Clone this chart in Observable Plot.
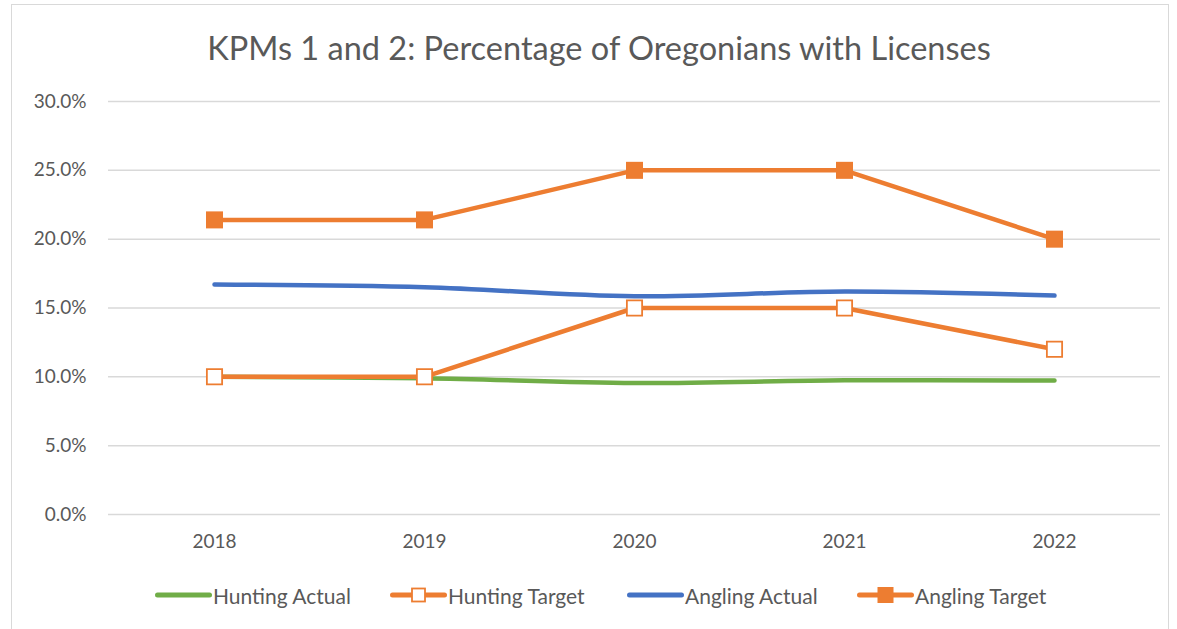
<!DOCTYPE html>
<html>
<head>
<meta charset="utf-8">
<script src="https://cdn.jsdelivr.net/npm/d3@7"></script>
<script src="https://cdn.jsdelivr.net/npm/@observablehq/plot@0.6"></script>
<style>
  html, body { margin: 0; padding: 0; background: #fff; }
  body { width: 1177px; height: 629px; position: relative; overflow: hidden; font-family: Lato, "Open Sans", sans-serif; }
  #frame { position: absolute; left: 11px; top: 4px; width: 1158px; height: 640px; border: 1.5px solid #d9d9d9; box-sizing: border-box; }
  #title { position: absolute; left: 0; width: 1198px; top: 29px; text-align: center; font-size: 32.5px; color: #595959; line-height: 38px; }
  #chart { position: absolute; left: 0; top: 80px; }
  #legend { position: absolute; left: 0; top: 581px; width: 1177px; height: 28px; font-size: 21px; color: #595959; }
  .item { position: absolute; top: 0; display: flex; align-items: center; height: 28px; }
  .item svg { display: block; }
</style>
</head>
<body>
<div id="frame"></div>
<div id="title">KPMs 1 and 2: Percentage of Oregonians with Licenses</div>
<div id="chart"></div>
<div id="legend"></div>
<script>
const years = ["2018", "2019", "2020", "2021", "2022"];
const huntingActual = [0.100, 0.099, 0.0955, 0.0975, 0.0973];
const huntingTarget = [0.100, 0.100, 0.150, 0.150, 0.120];
const anglingActual = [0.167, 0.165, 0.1585, 0.162, 0.159];
const anglingTarget = [0.214, 0.214, 0.250, 0.250, 0.200];
const yTicks = [0, 0.05, 0.10, 0.15, 0.20, 0.25, 0.30];

const seriesNames = ["Hunting Actual", "Hunting Target", "Angling Actual", "Angling Target"];
const seriesColors = ["#70ad47", "#ed7d31", "#4472c4", "#ed7d31"];

const rows = (vals) => years.map((y, i) => ({year: y, value: vals[i]}));
const ha = rows(huntingActual), ht = rows(huntingTarget), aa = rows(anglingActual), at = rows(anglingTarget);

const plot = Plot.plot({
  width: 1177,
  height: 484,
  marginLeft: 108,
  marginRight: 17,
  marginTop: 21,
  marginBottom: 50,
  style: {fontFamily: "Lato, 'Open Sans', sans-serif", fontSize: "19px", color: "#595959", background: "transparent"},
  x: {type: "point", domain: years, padding: 0.5, label: null},
  y: {domain: [0, 0.30], ticks: yTicks, label: null},
  marks: [
    Plot.ruleY(yTicks, {stroke: "#d9d9d9", strokeWidth: 1.5}),
    Plot.axisY({ticks: yTicks, tickSize: 0, tickPadding: 22, tickFormat: d3.format(".1%"), fill: "#595959", fontSize: 19}),
    Plot.axisX({tickSize: 0, tickPadding: 20, fill: "#595959", fontSize: 19}),
    Plot.lineY(ha, {x: "year", y: "value", stroke: seriesColors[0], strokeWidth: 4.5, curve: "catmull-rom", strokeLinecap: "round"}),
    Plot.lineY(ht, {x: "year", y: "value", stroke: seriesColors[1], strokeWidth: 4.5, strokeLinecap: "round"}),
    Plot.dot(ht, {x: "year", y: "value", symbol: "square", r: 8.6, fill: "white", stroke: seriesColors[1], strokeWidth: 1.8}),
    Plot.lineY(aa, {x: "year", y: "value", stroke: seriesColors[2], strokeWidth: 4.5, curve: "catmull-rom", strokeLinecap: "round"}),
    Plot.lineY(at, {x: "year", y: "value", stroke: seriesColors[3], strokeWidth: 4.5, strokeLinecap: "round"}),
    Plot.dot(at, {x: "year", y: "value", symbol: "square", r: 9.6, fill: seriesColors[3], stroke: "none"})
  ]
});
document.getElementById("chart").appendChild(plot);

// Legend
const legendPos = [155, 390, 627, 857];
const legend = document.getElementById("legend");
seriesNames.forEach((name, i) => {
  const div = document.createElement("div");
  div.className = "item";
  div.style.left = legendPos[i] + "px";
  let marker = "";
  if (i === 1) marker = '<rect x="22" y="7.5" width="13" height="13" fill="white" stroke="' + seriesColors[i] + '" stroke-width="1.8"/>';
  if (i === 3) marker = '<rect x="20.5" y="6" width="16" height="16" fill="' + seriesColors[i] + '"/>';
  div.innerHTML = '<svg width="57" height="28"><line x1="2.5" x2="54.5" y1="14" y2="14" stroke="' + seriesColors[i] + '" stroke-width="5" stroke-linecap="round"/>' + marker + '</svg><span style="margin-left:1px">' + name + '</span>';
  legend.appendChild(div);
});
</script>
</body>
</html>
